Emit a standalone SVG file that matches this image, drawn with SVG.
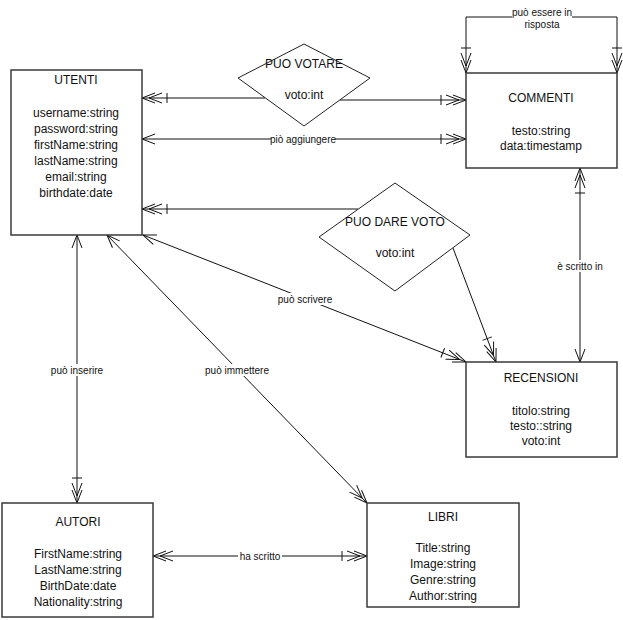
<svg xmlns="http://www.w3.org/2000/svg" width="623" height="620" viewBox="0 0 623 620">
<defs>
<style>
.box{fill:#fff;stroke:#3a3a3a;stroke-width:1.5}
.dia{fill:#fff;stroke:#222;stroke-width:1}
.ln{fill:none;stroke:#111;stroke-width:1}
.t{font-family:"Liberation Sans",Arial,sans-serif;font-size:12px;fill:#111;text-anchor:middle}
.lb{font-family:"Liberation Sans",Arial,sans-serif;font-size:10px;fill:#111;text-anchor:middle}
.bg{fill:#fff}
</style>
<marker id="one" viewBox="-30 -10 40 20" refX="0" refY="0" markerWidth="40" markerHeight="20" markerUnits="userSpaceOnUse" orient="auto-start-reverse">
<path d="M-13,-5 L0,0 L-13,5" fill="none" stroke="#111" stroke-width="1"/>
</marker>
<marker id="many" viewBox="-30 -10 40 20" refX="0" refY="0" markerWidth="40" markerHeight="20" markerUnits="userSpaceOnUse" orient="auto-start-reverse">
<path d="M-13,-5 L0,0 L-13,5 M-20,-5 L-7,0 L-20,5" fill="none" stroke="#111" stroke-width="1"/>
</marker>
<marker id="manytick" viewBox="-30 -10 40 20" refX="0" refY="0" markerWidth="40" markerHeight="20" markerUnits="userSpaceOnUse" orient="auto-start-reverse">
<path d="M-13,-5 L0,0 L-13,5 M-20,-5 L-7,0 L-20,5 M-25,-5 L-25,5" fill="none" stroke="#111" stroke-width="1"/>
</marker>
</defs>
<rect x="0" y="0" width="623" height="620" fill="#fff"/>

<g id="connectors">
<path class="ln" d="M466,73 L466,17 L617,17 L617,73" marker-start="url(#manytick)" marker-end="url(#manytick)"/>
<line class="ln" x1="265" y1="98" x2="142" y2="98" marker-end="url(#manytick)"/>
<line class="ln" x1="340" y1="100" x2="466" y2="100" marker-end="url(#manytick)"/>
<line class="ln" x1="142" y1="139" x2="466" y2="139" marker-start="url(#one)" marker-end="url(#manytick)"/>
<line class="ln" x1="358" y1="209" x2="142" y2="209" marker-end="url(#manytick)"/>
<line class="ln" x1="453" y1="248" x2="496" y2="362" marker-end="url(#manytick)"/>
<line class="ln" x1="143" y1="235" x2="466" y2="362" marker-start="url(#one)" marker-end="url(#manytick)"/>
<line class="ln" x1="580" y1="168" x2="580" y2="362" marker-start="url(#manytick)" marker-end="url(#one)"/>
<line class="ln" x1="77" y1="235" x2="77" y2="503" marker-start="url(#one)" marker-end="url(#manytick)"/>
<line class="ln" x1="107" y1="235" x2="367" y2="503" marker-start="url(#one)" marker-end="url(#many)"/>
<line class="ln" x1="153" y1="556" x2="367" y2="556" marker-start="url(#many)" marker-end="url(#manytick)"/>

<rect class="bg" x="512" y="5" width="60" height="25"/>
<text class="lb" x="542" y="15.5">può essere in</text>
<text class="lb" x="542" y="27.5">risposta</text>
<rect class="bg" x="271" y="133" width="64" height="12"/>
<text class="lb" x="303" y="142.5">piò aggiungere</text>
<rect class="bg" x="277" y="293" width="56" height="12"/>
<text class="lb" x="305" y="302.5">può scrivere</text>
<rect class="bg" x="555" y="260" width="50" height="12"/>
<text class="lb" x="580" y="269.5">è scritto in</text>
<rect class="bg" x="50" y="364" width="54" height="12"/>
<text class="lb" x="77" y="373.5">può inserire</text>
<rect class="bg" x="203" y="364" width="68" height="12"/>
<text class="lb" x="237" y="373.5">può immettere</text>
<rect class="bg" x="238" y="550" width="44" height="12"/>
<text class="lb" x="260" y="559.5">ha scritto</text>
</g>

<g id="utenti">
<rect class="box" x="11" y="70" width="131" height="165"/>
<text class="t" x="76" y="84">UTENTI</text>
<text class="t" x="76" y="117">username:string</text>
<text class="t" x="76" y="133">password:string</text>
<text class="t" x="76" y="149">firstName:string</text>
<text class="t" x="76" y="165">lastName:string</text>
<text class="t" x="76" y="181">email:string</text>
<text class="t" x="76" y="197">birthdate:date</text>
</g>

<g id="commenti">
<rect class="box" x="466" y="73" width="151" height="95"/>
<text class="t" x="541" y="102">COMMENTI</text>
<text class="t" x="541" y="135">testo:string</text>
<text class="t" x="541" y="150">data:timestamp</text>
</g>

<g id="recensioni">
<rect class="box" x="466" y="362" width="151" height="95"/>
<text class="t" x="541" y="382">RECENSIONI</text>
<text class="t" x="541" y="415">titolo:string</text>
<text class="t" x="541" y="430">testo::string</text>
<text class="t" x="541" y="445">voto:int</text>
</g>

<g id="autori">
<rect class="box" x="2" y="503" width="151" height="114"/>
<text class="t" x="78" y="526">AUTORI</text>
<text class="t" x="78" y="558">FirstName:string</text>
<text class="t" x="78" y="574">LastName:string</text>
<text class="t" x="78" y="590">BirthDate:date</text>
<text class="t" x="78" y="606">Nationality:string</text>
</g>

<g id="libri">
<rect class="box" x="367" y="503" width="152" height="104"/>
<text class="t" x="443" y="521">LIBRI</text>
<text class="t" x="443" y="552">Title:string</text>
<text class="t" x="443" y="568">Image:string</text>
<text class="t" x="443" y="584">Genre:string</text>
<text class="t" x="443" y="600">Author:string</text>
</g>

<g id="puo-votare">
<polygon class="dia" points="304,44 370,78 304,126 238,78"/>
<text class="t" x="304" y="68">PUO VOTARE</text>
<text class="t" x="304" y="99">voto:int</text>
</g>

<g id="puo-dare-voto">
<polygon class="dia" points="395,183 470,235 395,291 319,237"/>
<text class="t" x="395" y="226">PUO DARE VOTO</text>
<text class="t" x="395" y="257">voto:int</text>
</g>
</svg>
